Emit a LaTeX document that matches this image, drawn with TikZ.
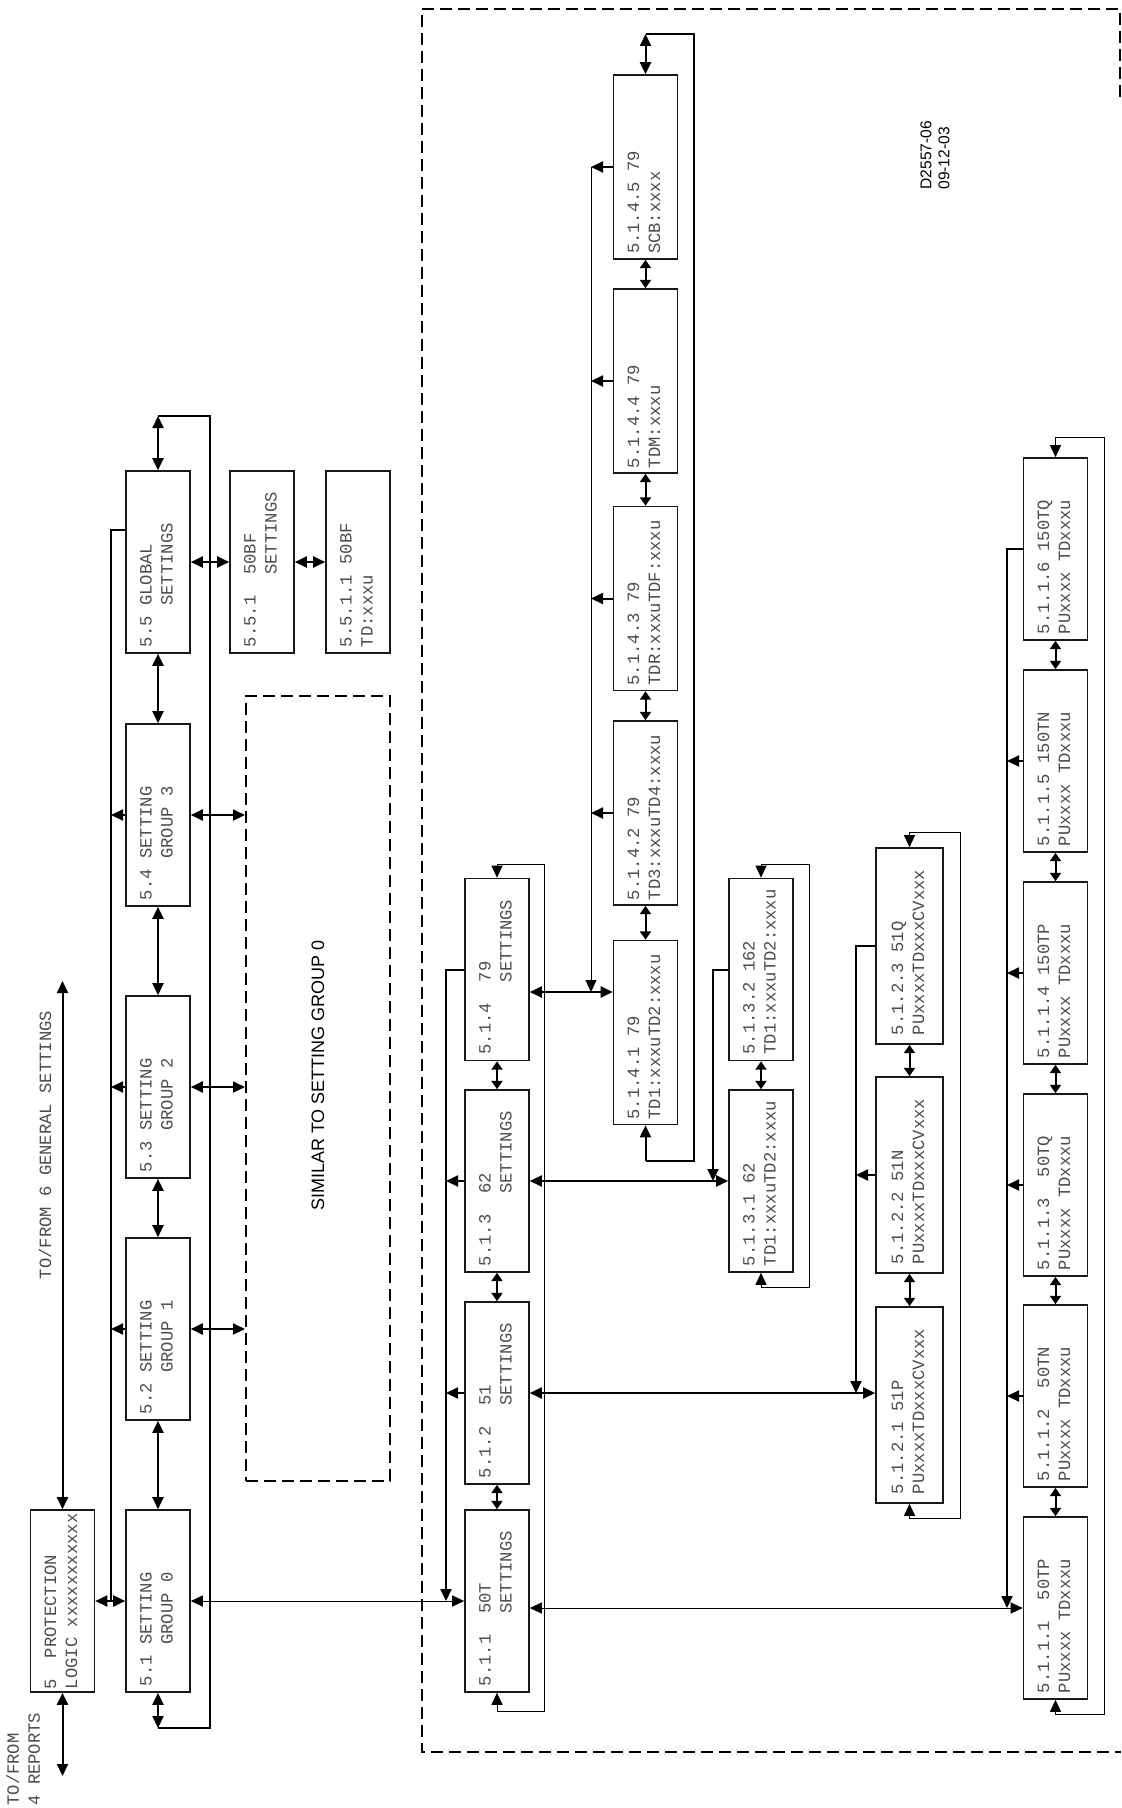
\documentclass[tikz,border=0pt]{standalone}
\usepackage{fontspec}
\setmainfont{Liberation Sans}
\setsansfont{Liberation Sans}
\setmonofont{Liberation Mono}
\usepackage{graphicx}
\usetikzlibrary{arrows.meta,positioning}

\newcommand{\lcdfont}{\ttfamily\fontsize{8.6}{10.5}\selectfont}
% two display lines, turned to read upwards
\newcommand{\lcd}[3][85pt]{\rotatebox{90}{\makebox[#1][l]{\begin{tabular}{@{}l@{}}#2\\#3\end{tabular}}}}

\tikzset{
  lcdbox/.style={draw=black!90, line width=0.8pt, minimum width=32pt, minimum height=91pt, inner sep=0pt, font=\lcdfont, text=black!70},
  colbox/.style={lcdbox, minimum height=92pt},
  tallbox/.style={lcdbox, minimum width=33.5pt, minimum height=98pt},
  simbox/.style={draw, line width=1pt, dash pattern=on 6pt off 3pt, minimum width=72pt, minimum height=392.5pt, inner sep=0pt, font=\sffamily\fontsize{9}{11}\selectfont},
  thk/.style={line width=1pt},
  thn/.style={line width=0.5pt},
  gap/.style={line width=1pt, >={Triangle[length=4.2pt,width=5.5pt]}, <->},
}

\begin{document}
\begin{tikzpicture}[x=0.5pt, y=-0.5pt, >={Triangle[length=6pt,width=5.5pt]}]
  \useasboundingbox (0,0) rectangle (1121,1808);

  %--- outer dashed frame ---
  \draw[thk, dash pattern=on 6pt off 3pt] (1120,97) -- (1120,9) -- (422,9) -- (422,1752) -- (1121,1752);

  %--- protection logic and setting groups ---
  \node[lcdbox] (gs) at (158,562) {\lcd{5.5 GLOBAL}{~~~~SETTINGS}};
  \node[lcdbox] (bf) at (262,562) {\lcd{5.5.1~~50BF}{~~~~~~~SETTINGS}};
  \node[lcdbox] (bft) at (358,562) {\lcd{5.5.1.1 50BF}{TD:xxxu}};
  \node[lcdbox] (g3) at (158,815) {\lcd{5.4 SETTING}{~~~~GROUP 3}};
  \node[lcdbox] (g2) at (158,1087) {\lcd{5.3 SETTING}{~~~~GROUP 2}};
  \node[lcdbox] (g1) at (158,1329) {\lcd{5.2 SETTING}{~~~~GROUP 1}};
  \node[lcdbox] (g0) at (158,1601) {\lcd{5.1 SETTING}{~~~~GROUP 0}};
  \node[lcdbox] (prot) at (62.5,1601) {\lcd[88pt]{5~~PROTECTION}{LOGIC xxxxxxxxxxx}};
  \node[simbox] (sim) at (318,1088.5) {\rotatebox{90}{\hspace{13pt}SIMILAR TO SETTING GROUP 0}};

  \node[rotate=90, font=\lcdfont, text=black!70] (gen) at (45,1145) {TO/FROM 6 GENERAL SETTINGS};
  \node[rotate=90, anchor=north west, align=left, inner sep=0pt, font=\lcdfont, text=black!70] (rep) at (6,1806) {TO/FROM\\4 REPORTS};
  \node[rotate=90, anchor=north west, align=left, inner sep=0pt, font=\sffamily\fontsize{7.8}{9}\selectfont] (dwg) at (920,190) {D2557-06\\09-12-03};

  \draw[thk,<->] (prot.north) -- (prot.north|-0,981);
  \draw[thk,<->] (prot.south) -- (prot.south|-0,1776);
  \draw[thk,<->] (prot.east) -- (g0.west);
  \foreach \a/\b in {gs/g3,g3/g2,g2/g1,g1/g0}
    \draw[thk,<->] (\a.south) -- (\b.north);
  \draw[thk] (gs.west|-0,530) -- (111,530) -- (111,1601);
  \foreach \g in {g3,g2,g1}{
    \draw[thk,->] (\g.west) -- (\g.west-|111,0);
    \draw[thk,<->] (\g.east) -- (\g.east-|sim.west);
  }
  \draw[thk,<->] (g0.south) -- (g0.south|-0,1728);
  \draw[thk] (g0.south|-0,1728) -| (210,416) -- (gs.north|-0,416);
  \draw[thk,<->] (gs.north|-0,416) -- (gs.north);
  \draw[thk,<->] (gs.east) -- (bf.west);
  \draw[thk,<->] (bf.east) -- (bft.west);

  %--- 5.1 setting group 0 menus ---
  \node[lcdbox] (m1) at (497,1601) {\lcd{5.1.1~~50T}{~~~~~~~SETTINGS}};
  \node[lcdbox] (m2) at (497,1393) {\lcd{5.1.2~~51}{~~~~~~~SETTINGS}};
  \node[lcdbox] (m3) at (497,1181) {\lcd{5.1.3~~62}{~~~~~~~SETTINGS}};
  \node[lcdbox] (m4) at (497,969.5) {\lcd{5.1.4~~79}{~~~~~~~SETTINGS}};

  \draw[thn,<->] (g0.east) -- (m1.west);
  \foreach \a/\b in {m4/m3,m3/m2,m2/m1}
    \draw[gap] (\a.south) -- (\b.north);
  \draw[thk,->] (m4.west) -| (446,1601);
  \draw[thk,->] (m3.west) -- (m3.west-|446,0);
  \draw[thk,->] (m2.west) -- (m2.west-|446,0);
  \draw[thn,<->] (m1.south) -- ++(0,19) -| (544,864) -| (m4.north);

  % 79 recloser
  \node[colbox] (b1) at (645.5,1032.5) {\lcd[87pt]{5.1.4.1 79}{TD1:xxxuTD2:xxxu}};
  \node[colbox] (b2) at (645.5,813) {\lcd[87pt]{5.1.4.2 79}{TD3:xxxuTD4:xxxu}};
  \node[colbox] (b3) at (645.5,598.5) {\lcd[87pt]{5.1.4.3 79}{TDR:xxxuTDF:xxxu}};
  \node[colbox] (b4) at (645.5,381) {\lcd[87pt]{5.1.4.4 79}{TDM:xxxu}};
  \node[colbox] (b5) at (645.5,167) {\lcd[87pt]{5.1.4.5 79}{SCB:xxxx}};

  \coordinate (r4) at (0,992);
  \draw[thk,<->] (m4.east|-r4) -- (b1.west|-r4);
  \foreach \a/\b in {b5/b4,b4/b3,b3/b2,b2/b1}
    \draw[gap] (\a.south) -- (\b.north);
  \draw[thk,->] (b5.west) -- (591,167);
  \draw[thn,->] (591,167) -- (591,992);
  \foreach \b in {b4,b3,b2}
    \draw[thk,->] (\b.west) -- (\b.west-|591,0);
  \draw[thk,<->] (b5.north) -- (b5.north|-0,34);
  \draw[thk] (b5.north|-0,34) -| (694,1161) -- (b1.south|-0,1161);
  \draw[thk,->] (b1.south|-0,1161) -- (b1.south);

  % 62 timers
  \node[lcdbox] (c1) at (761,1181) {\lcd{5.1.3.1 62}{TD1:xxxuTD2:xxxu}};
  \node[lcdbox] (c2) at (761,969.5) {\lcd{5.1.3.2 162}{TD1:xxxuTD2:xxxu}};

  \draw[thk,<->] (m3.east) -- (c1.west);
  \draw[gap] (c2.south) -- (c1.north);
  \draw[thk,->] (c2.west) -| (713,1181);
  \draw[thn,<->] (c1.south) -- ++(0,15) -| (809,864) -| (c2.north);

  % 51 time overcurrent
  \node[tallbox] (d1) at (909.5,1405) {\lcd[89pt]{5.1.2.1 51P}{PUxxxxTDxxxCVxxx}};
  \node[tallbox] (d2) at (909.5,1175) {\lcd[89pt]{5.1.2.2 51N}{PUxxxxTDxxxCVxxx}};
  \node[tallbox] (d3) at (909.5,946) {\lcd[89pt]{5.1.2.3 51Q}{PUxxxxTDxxxCVxxx}};

  \draw[thk,<->] (m2.east) -- (m2.east-|d1.west);
  \draw[gap] (d3.south) -- (d2.north);
  \draw[gap] (d2.south) -- (d1.north);
  \draw[thk,->] (d3.west) -| (856,1393);
  \draw[thk,->] (d2.west) -- (d2.west-|856,0);
  \draw[thn,<->] (d1.south) -- ++(0,15) -| (960,832) -| (d3.north);

  % 50T definite time
  \node[lcdbox] (e1) at (1055.5,1608) {\lcd{5.1.1.1~~50TP}{PUxxxx TDxxxu}};
  \node[lcdbox] (e2) at (1055.5,1396) {\lcd{5.1.1.2~~50TN}{PUxxxx TDxxxu}};
  \node[lcdbox] (e3) at (1055.5,1185) {\lcd{5.1.1.3~~50TQ}{PUxxxx TDxxxu}};
  \node[lcdbox] (e4) at (1055.5,973) {\lcd{5.1.1.4 150TP}{PUxxxx TDxxxu}};
  \node[lcdbox] (e5) at (1055.5,761) {\lcd{5.1.1.5 150TN}{PUxxxx TDxxxu}};
  \node[lcdbox] (e6) at (1055.5,549) {\lcd{5.1.1.6 150TQ}{PUxxxx TDxxxu}};

  \draw[thn,<->] (m1.east|-e1.west) -- (e1.west);
  \foreach \a/\b in {e6/e5,e5/e4,e4/e3,e3/e2,e2/e1}
    \draw[gap] (\a.south) -- (\b.north);
  \draw[thk,->] (e6.west) -| (1007,1608);
  \foreach \e in {e5,e4,e3,e2}
    \draw[thk,->] (\e.west) -- (\e.west-|1007,0);
  \draw[thn,<->] (e1.south) -- ++(0,15) -| (1104,437) -| (e6.north);
\end{tikzpicture}
\end{document}
